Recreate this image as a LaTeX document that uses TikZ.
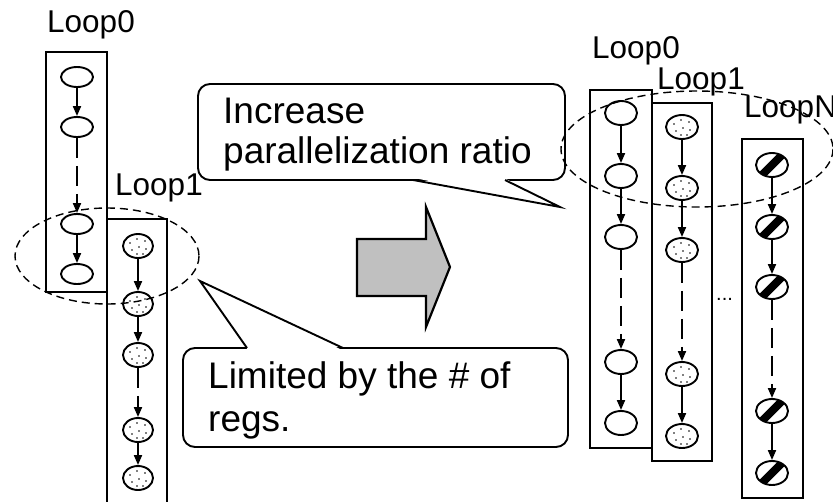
\documentclass[tikz,border=0pt]{standalone}
\usepackage{fontspec}
\setmainfont{Liberation Sans}
\usetikzlibrary{arrows.meta,shapes.geometric}

\tikzset{
  loopbox/.style={draw, line width=2.2pt},
  plainop/.style={ellipse, draw, line width=1.9pt, fill=white, inner sep=0pt,
                  minimum width=32pt, minimum height=20pt},
  tallop/.style={plainop, minimum height=24pt},
  dotop/.style={tallop, minimum width=30pt,
    path picture={
      \foreach \dx/\dy in {-8/-3,-1/-7,7/-5,-6/4,1/1,8/3,-1/8,5/8}
        \fill[black] ([shift={(\dx,\dy)}]path picture bounding box.center) circle (0.9pt);
    }},
  hatchop/.style={tallop,
    path picture={
      \draw[black, line width=8pt]
        ([shift={(-20,20)}]path picture bounding box.center) --
        ([shift={(20,-20)}]path picture bounding box.center);
    }},
  flow/.style={-{Triangle[length=10pt,width=8pt]}, line width=1.9pt},
  gapflow/.style={flow, dash pattern=on 20pt off 8pt},
  ring/.style={draw, line width=1.4pt, dash pattern=on 8pt off 5pt},
  looplabel/.style={font=\fontsize{31.5}{36}\selectfont, inner sep=0pt, anchor=base west},
  note/.style={font=\fontsize{37}{44}\selectfont, inner sep=0pt, anchor=base west},
  callbox/.style={draw, line width=1.9pt, rounded corners=12pt, fill=white},
}

\begin{document}
\begin{tikzpicture}[x=1pt,y=-1pt]
\useasboundingbox (0,0) rectangle (833,501);

% ---------- before: two loops executed one after the other ----------
\node[looplabel] (lblA0) at (47,32) {Loop0};
\draw[loopbox] (46,52) rectangle (107,292);
\node[plainop] (a1) at (77,77) {};
\node[plainop] (a2) at (77,127) {};
\node[plainop] (a3) at (77,224) {};
\node[plainop] (a4) at (77,274) {};
\draw[flow] (a1) -- (a2);
\draw[gapflow] (a2) -- (a3);
\draw[flow] (a3) -- (a4);

\node[looplabel] (lblA1) at (115,195) {Loop1};
\draw[loopbox] (107,219) rectangle (167,520);
\node[dotop] (b1) at (138,246) {};
\node[dotop] (b2) at (138,304) {};
\node[dotop] (b3) at (138,355) {};
\node[dotop] (b4) at (138,430) {};
\node[dotop] (b5) at (138,478) {};
\draw[flow] (b1) -- (b2);
\draw[flow] (b2) -- (b3);
\draw[gapflow] (b3) -- (b4);
\draw[flow] (b4) -- (b5);

% ---------- transition arrow ----------
\draw[line width=2.2pt, fill={rgb,255:red,192;green,192;blue,192}]
  (357,239) -- (426,239) -- (426,207) -- (450,267) -- (426,327) -- (426,296)
  -- (357,296) -- cycle;

% ---------- after: loops running side by side ----------
\node[looplabel] (lblB0) at (592,58) {Loop0};
\node[looplabel] (lblB1) at (657,89) {Loop1};
\node[looplabel] (lblBN) at (744,117) {LoopN};

\draw[loopbox] (590,90) rectangle (652,448);
\node[tallop] (c1) at (621,113) {};
\node[tallop] (c2) at (621,176) {};
\node[tallop] (c3) at (621,237) {};
\node[tallop] (c4) at (621,362) {};
\node[tallop] (c5) at (621,423) {};
\draw[flow] (c1) -- (c2);
\draw[flow] (c2) -- (c3);
\draw[gapflow] (c3) -- (c4);
\draw[flow] (c4) -- (c5);

\draw[loopbox] (652,103) rectangle (712,461);
\node[dotop, minimum width=32pt] (d1) at (682,127) {};
\node[dotop, minimum width=32pt] (d2) at (682,188) {};
\node[dotop, minimum width=32pt] (d3) at (682,250) {};
\node[dotop, minimum width=32pt] (d4) at (682,374) {};
\node[dotop, minimum width=32pt] (d5) at (682,436) {};
\draw[flow] (d1) -- (d2);
\draw[flow] (d2) -- (d3);
\draw[gapflow] (d3) -- (d4);
\draw[flow] (d4) -- (d5);

\node[font=\fontsize{20}{24}\selectfont, inner sep=0pt, anchor=base west] (more) at (716,300) {...};

\draw[loopbox] (742,139) rectangle (803,498);
\node[hatchop] (e1) at (772,165) {};
\node[hatchop] (e2) at (772,227) {};
\node[hatchop] (e3) at (772,287) {};
\node[hatchop] (e4) at (772,411) {};
\node[hatchop] (e5) at (772,473) {};
\draw[flow] (e1) -- (e2);
\draw[flow] (e2) -- (e3);
\draw[gapflow] (e3) -- (e4);
\draw[flow] (e4) -- (e5);

% ---------- callouts ----------
\path[callbox] (198,84) rectangle (565,180);
\coordinate (upTip) at (560,207);
\fill[white] (414,178) -- (upTip) -- (504,178) -- cycle;
\draw[line width=1.9pt, line join=miter] (413,180) -- (upTip) -- (505,180);
\node[note] (incA) at (223,123) {Increase};
\node[note] (incB) at (223,163) {parallelization ratio};

\path[callbox] (183,348) rectangle (568,447);
\coordinate (lowTip) at (200,281);
\fill[white] (248,350) -- (lowTip) -- (342,350) -- cycle;
\draw[line width=1.9pt, line join=miter] (247,348) -- (lowTip) -- (343,348);
\node[note] (limA) at (208,388) {Limited by the \# of};
\node[note] (limB) at (208,431) {regs.};

% ---------- dashed regions ----------
\draw[ring] (107,256) ellipse [x radius=92, y radius=48];
\draw[ring] (697,149) ellipse [x radius=136, y radius=58];
\end{tikzpicture}
\end{document}
